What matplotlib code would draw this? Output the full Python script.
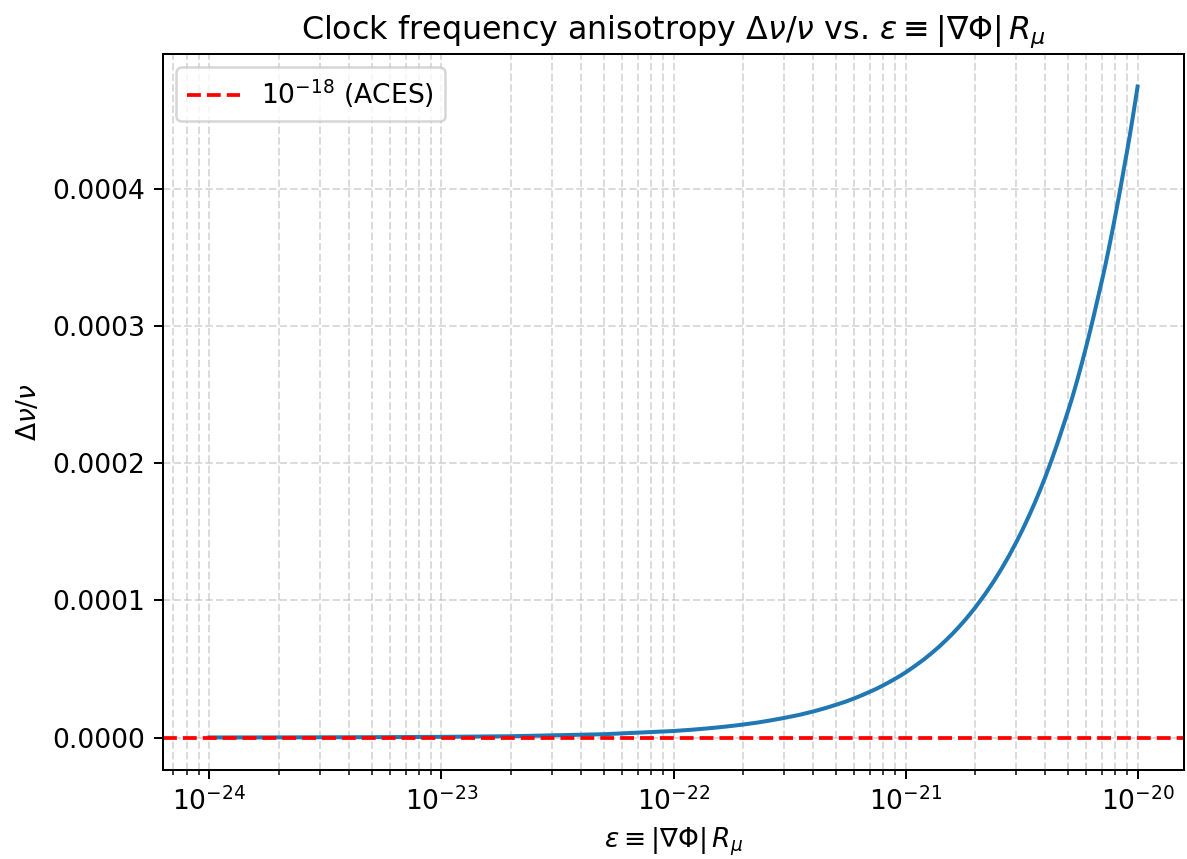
import matplotlib
matplotlib.use("Agg")
import matplotlib.pyplot as plt

plt.rcParams['font.size'] = 10.6

# values
eps = [1e-24, 2e-24, 5e-24, 1e-23, 2e-23, 5e-23, 1e-22, 1.2e-22, 1.4e-22, 1.6e-22,
       1.8e-22, 2e-22, 2.3e-22, 2.6e-22, 3e-22, 3.5e-22, 4e-22, 4.5e-22, 5e-22, 5.5e-22,
       6e-22, 6.5e-22, 7e-22, 7.5e-22, 8e-22, 8.5e-22, 9e-22, 9.5e-22, 1e-21, 1.1e-21,
       1.2e-21, 1.3e-21, 1.4e-21, 1.5e-21, 1.6e-21, 1.7e-21, 1.8e-21, 1.9e-21, 2e-21, 2.2e-21,
       2.4e-21, 2.6e-21, 2.8e-21, 3e-21, 3.2e-21, 3.4e-21, 3.6e-21, 3.8e-21, 4e-21, 4.25e-21,
       4.5e-21, 4.75e-21, 5e-21, 5.25e-21, 5.5e-21, 5.75e-21, 6e-21, 6.25e-21, 6.5e-21, 6.75e-21,
       7e-21, 7.25e-21, 7.5e-21, 7.75e-21, 8e-21, 8.25e-21, 8.5e-21, 8.75e-21, 9e-21, 9.25e-21,
       9.5e-21, 9.75e-21, 1e-20]
dnu = [4.75e-8, 9.5e-8, 2.4e-7, 4.75e-7, 9.5e-7, 2.4e-6, 4.75e-6, 5.7e-6, 6.65e-6, 7.6e-6,
       8.55e-6, 9.5e-6, 1.09e-5, 1.24e-5, 1.43e-5, 1.66e-5, 1.9e-5, 2.14e-5, 2.38e-5, 2.61e-5,
       2.85e-5, 3.09e-5, 3.33e-5, 3.56e-5, 3.8e-5, 4.04e-5, 4.28e-5, 4.51e-5, 4.75e-5, 5.23e-5,
       5.7e-5, 6.18e-5, 6.65e-5, 7.13e-5, 7.6e-5, 8.08e-5, 8.55e-5, 9.03e-5, 9.5e-5, 1.045e-4,
       1.14e-4, 1.235e-4, 1.33e-4, 1.425e-4, 1.52e-4, 1.615e-4, 1.71e-4, 1.805e-4, 1.9e-4, 2.02e-4,
       2.14e-4, 2.26e-4, 2.375e-4, 2.49e-4, 2.61e-4, 2.73e-4, 2.85e-4, 2.97e-4, 3.09e-4, 3.21e-4,
       3.325e-4, 3.44e-4, 3.56e-4, 3.68e-4, 3.8e-4, 3.92e-4, 4.04e-4, 4.16e-4, 4.275e-4, 4.39e-4,
       4.51e-4, 4.63e-4, 4.75e-4]
aces = 1e-18

fig, ax = plt.subplots(figsize=(1187 / 180, 859 / 180), dpi=180)
fig.subplots_adjust(left=163 / 1187, right=1184 / 1187, top=1 - 54 / 859, bottom=1 - 770 / 859)

ax.plot(eps, dnu, color='#1f77b4', lw=1.6)
ax.axhline(aces, color='red', ls='--', lw=1.5, label=r'$10^{-18}$ (ACES)')
ax.set_xscale('log')
ax.grid(True, which='both', ls='--', alpha=0.45)
ax.set_xlabel(r'$\varepsilon \equiv |\nabla\Phi|\,R_\mu$')
ax.set_ylabel(r'$\Delta\nu/\nu$')
ax.set_title(r'Clock frequency anisotropy $\Delta\nu/\nu$ vs. $\varepsilon \equiv |\nabla\Phi|\,R_\mu$',
             fontsize=12.7)
ax.legend(loc='upper left')

fig.savefig('out.png', dpi=180)
